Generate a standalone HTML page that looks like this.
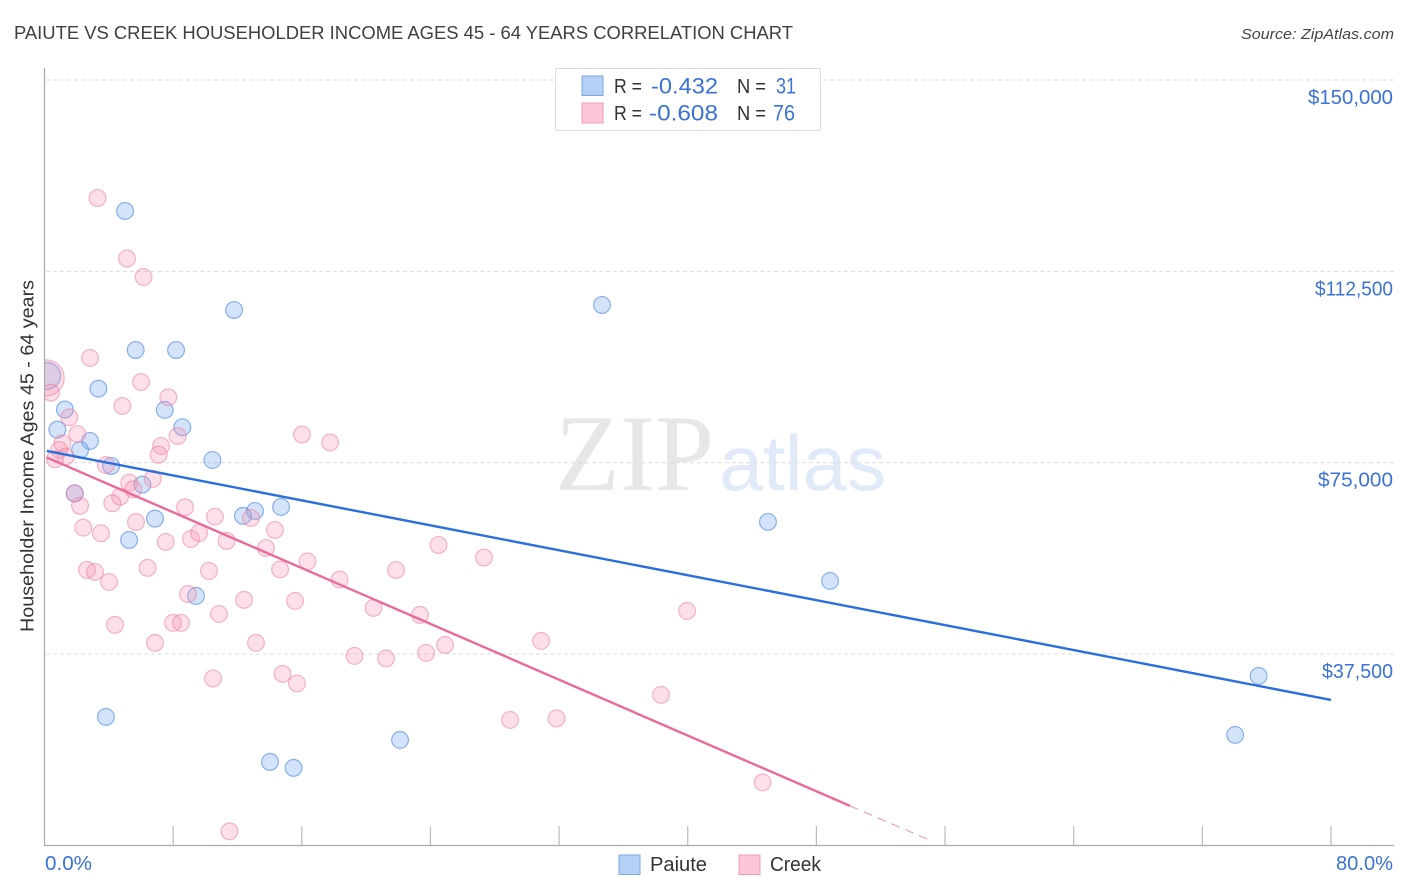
<!DOCTYPE html>
<html lang="en">
<head>
<meta charset="utf-8">
<title>Paiute vs Creek Householder Income Ages 45 - 64 Years Correlation Chart</title>
<style>
  html, body { margin: 0; padding: 0; background: #fff; width: 1406px; height: 892px; overflow: hidden; }
  svg { display: block; font-family: "Liberation Sans", sans-serif; }
</style>
</head>
<body>
<svg id="chart" xmlns="http://www.w3.org/2000/svg" width="1406" height="892" viewBox="0 0 1406 892">
  <defs>
    <clipPath id="plot-clip"><rect x="44.5" y="60" width="1350" height="786"/></clipPath>
  </defs>
  <text x="14" y="39" font-size="18.5" fill="#3f3f3f" textLength="779" lengthAdjust="spacingAndGlyphs">PAIUTE VS CREEK HOUSEHOLDER INCOME AGES 45 - 64 YEARS CORRELATION CHART</text>
  <text x="1241" y="39" font-size="15" font-style="italic" fill="#444" textLength="153" lengthAdjust="spacingAndGlyphs">Source: ZipAtlas.com</text>

  <g>
    <text x="555" y="490" font-family="'Liberation Serif', serif" font-size="109" fill="#e7e7e7" textLength="159" lengthAdjust="spacingAndGlyphs">ZIP</text>
    <text x="719" y="490" font-size="78" fill="#e0eaf8" textLength="167" lengthAdjust="spacingAndGlyphs">atlas</text>
  </g>

  <g id="grid"></g>
  <g id="points" clip-path="url(#plot-clip)"></g>
  <g id="trends"></g>
  <g id="axes"></g>

  <text transform="translate(33.5,632) rotate(-90)" font-size="18.5" fill="#333" textLength="352" lengthAdjust="spacingAndGlyphs">Householder Income Ages 45 - 64 years</text>

  <g>
    <rect x="555.5" y="68.5" width="265" height="62" fill="#fff" stroke="#dcdcdc" stroke-width="1"/>
    <rect x="582" y="76" width="21" height="19.5" fill="#b5d0f5" stroke="#7aa8e6" stroke-width="1"/>
    <text x="614" y="93" font-size="20" fill="#333" textLength="28" lengthAdjust="spacingAndGlyphs">R =</text>
    <text x="651" y="93.5" font-size="22" fill="#3a72d8" textLength="67" lengthAdjust="spacingAndGlyphs">-0.432</text>
    <text x="737" y="93" font-size="20" fill="#333" textLength="29" lengthAdjust="spacingAndGlyphs">N =</text>
    <text x="776" y="93.5" font-size="22" fill="#3a72d8" textLength="20" lengthAdjust="spacingAndGlyphs">31</text>
    <rect x="582" y="103" width="21" height="20" fill="#fcc5d8" stroke="#ef9ab8" stroke-width="1"/>
    <text x="614" y="120" font-size="20" fill="#333" textLength="28" lengthAdjust="spacingAndGlyphs">R =</text>
    <text x="649" y="120.5" font-size="22" fill="#3a72d8" textLength="69" lengthAdjust="spacingAndGlyphs">-0.608</text>
    <text x="737" y="120" font-size="20" fill="#333" textLength="29" lengthAdjust="spacingAndGlyphs">N =</text>
    <text x="773" y="120.5" font-size="22" fill="#3a72d8" textLength="22" lengthAdjust="spacingAndGlyphs">76</text>
  </g>

  <g>
    <rect x="619" y="855" width="21" height="19.5" fill="#b5d0f5" stroke="#7aa8e6" stroke-width="1"/>
    <text x="650" y="871" font-size="20" fill="#333" textLength="57" lengthAdjust="spacingAndGlyphs">Paiute</text>
    <rect x="739" y="855" width="21" height="19.5" fill="#fcc5d8" stroke="#ef9ab8" stroke-width="1"/>
    <text x="770" y="871" font-size="20" fill="#333" textLength="51" lengthAdjust="spacingAndGlyphs">Creek</text>
  </g>
</svg>
<script>
// Data: x is percent, y is householder income in dollars.
const yTickValues = [37500, 75000, 112500, 150000];
const yTickLabels = ["$37,500", "$75,000", "$112,500", "$150,000"];
const xTickValues = [8, 16, 24, 32, 40, 48, 56, 64, 72, 80];
const xEdgeValues = [0, 80];
const xEdgeLabels = ["0.0%", "80.0%"];

const paiuteX = [5.01, 11.79, 34.67, 5.67, 8.18, 3.35, 0.16, 1.27, 7.48, 0.80, 8.57, 2.83, 2.21, 10.44, 4.14, 6.08, 1.88, 6.87, 12.34, 13.09, 14.71, 5.26, 44.99, 48.85, 9.42, 75.50, 3.82, 74.04, 22.11, 14.02, 15.49];
const paiuteY = [124330, 104930, 105910, 97090, 97090, 89510, 92000, 85430, 85340, 81480, 81950, 79260, 77500, 75540, 74360, 70700, 68970, 64040, 64570, 65540, 66330, 59860, 63390, 51830, 48890, 33210, 25180, 21650, 20670, 16360, 15190];
const paiuteWeight = [1, 1, 1, 1, 1, 1, 1.6, 1, 1, 1, 1, 1, 1, 1, 1, 1, 1, 1, 1, 1, 1, 1, 1, 1, 1, 1, 1, 1, 1, 1, 1];

const creekX = [3.30, 5.13, 6.16, 2.83, 0.10, 0.40, 6.00, 7.70, 4.84, 1.54, 2.04, 8.28, 7.25, 1.11, 0.92, 1.32, 0.65, 7.10, 3.82, 6.73, 5.27, 5.52, 4.70, 4.22, 2.21, 8.74, 10.60, 5.69, 2.41, 3.51, 7.54, 9.11, 9.61, 11.33, 1.88, 2.64, 3.14, 4.01, 6.41, 10.23, 4.38, 6.87, 7.99, 8.49, 8.92, 10.85, 12.41, 13.15, 10.48, 14.80, 15.70, 15.58, 14.65, 13.77, 12.84, 14.33, 16.36, 16.01, 17.76, 18.35, 21.86, 20.46, 23.35, 19.28, 21.24, 23.73, 24.91, 24.50, 27.33, 30.88, 28.95, 31.84, 38.34, 39.96, 44.65, 11.50];
const creekY = [126880, 115020, 111400, 95530, 91610, 88730, 90820, 87820, 86120, 83910, 80630, 80240, 78280, 78810, 77500, 76190, 75680, 76580, 74560, 71820, 71090, 69800, 68350, 67050, 66530, 66270, 64430, 63390, 62270, 61180, 59470, 60060, 61230, 59670, 69010, 53980, 53590, 51630, 54380, 53790, 43210, 39680, 43600, 43600, 49280, 45360, 48110, 39680, 32720, 33610, 31740, 47910, 54080, 58290, 64170, 61820, 55650, 80530, 78970, 52120, 53980, 46540, 45170, 37130, 36640, 37720, 39290, 58880, 56430, 40070, 24590, 24890, 29490, 45950, 12340, 2740];
const creekWeight = [1, 1, 1, 1, 2.15, 1, 1, 1, 1, 1, 1, 1, 1, 1, 1, 1, 1, 1, 1, 1, 1, 1, 1, 1, 1, 1, 1, 1, 1, 1, 1, 1, 1, 1, 1, 1, 1, 1, 1, 1, 1, 1, 1, 1, 1, 1, 1, 1, 1, 1, 1, 1, 1, 1, 1, 1, 1, 1, 1, 1, 1, 1, 1, 1, 1, 1, 1, 1, 1, 1, 1, 1, 1, 1, 1, 1];

const paiuteTrendX = [0.14, 80];
const paiuteTrendY = [77300, 28510];
const creekTrendX = [0.14, 50.09];
const creekTrendY = [76030, 7740];
const creekExtensionX = [50.09, 55.01];
const creekExtensionY = [7740, 1080];

const SVGNS = "http://www.w3.org/2000/svg";
function xScale(v) { return 44.5 + v * 16.081; }
function yScale(v) { return 845.4 - v * 0.0051027; }
function make(tag, attrs, parent) {
  const el = document.createElementNS(SVGNS, tag);
  for (const k in attrs) el.setAttribute(k, attrs[k]);
  parent.appendChild(el);
  return el;
}
// The reference's label face is wider than Liberation Sans, so each printed label is fitted to its measured width.
function fitLabel(label, target) {
  if (target) {
    label.setAttribute("textLength", target);
    label.setAttribute("lengthAdjust", "spacingAndGlyphs");
  }
}
const labelFit = { "$150,000": 85, "$112,500": 78, "$75,000": 75, "$37,500": 71, "0.0%": 47, "80.0%": 57 };

const grid = document.getElementById("grid");
const axes = document.getElementById("axes");
const points = document.getElementById("points");
const trends = document.getElementById("trends");

yTickValues.forEach(function (v, i) {
  const y = yScale(v);
  const line = make("line", { x1: 46, x2: 1394, y1: y, y2: y, stroke: "#dcdcdc", "stroke-width": 1, "stroke-dasharray": "4 3" }, grid);
  
  
  const label = make("text", { x: 1393, y: y + 24, "text-anchor": "end", "font-size": 20, fill: "#3a72d8" }, axes);
  
  
  label.textContent = yTickLabels[i];
  fitLabel(label, labelFit[yTickLabels[i]]);
});

const leftAxis = make("line", { x1: 44.5, x2: 44.5, y1: 68, y2: 846, stroke: "#aaa", "stroke-width": 1.2 }, axes);


const bottomAxis = make("line", { x1: 44, x2: 1394, y1: 845.5, y2: 845.5, stroke: "#aaa", "stroke-width": 1.2 }, axes);



xTickValues.forEach(function (v) {
  const x = xScale(v);
  const tick = make("line", { x1: x, x2: x, y1: 826, y2: 845.5, stroke: "#bbb", "stroke-width": 1.2 }, axes);
  
  
});

xEdgeValues.forEach(function (v, i) {
  const label = make("text", { x: i === 0 ? xScale(v) + 0.5 : 1393, y: 870, "text-anchor": i === 0 ? "start" : "end", "font-size": 20, fill: "#3a72d8" }, axes);
  
  
  label.textContent = xEdgeLabels[i];
  fitLabel(label, labelFit[xEdgeLabels[i]]);
});

paiuteX.forEach(function (v, i) {
  const dot = make("circle", { cx: xScale(v), cy: yScale(paiuteY[i]), r: 8.4 * paiuteWeight[i], fill: "rgba(110,165,238,0.3)", stroke: "rgba(70,130,225,0.6)", "stroke-width": 1.2 }, points);
  
  
});
creekX.forEach(function (v, i) {
  const dot = make("circle", { cx: xScale(v), cy: yScale(creekY[i]), r: 8.4 * creekWeight[i], fill: "rgba(245,150,180,0.3)", stroke: "rgba(235,125,160,0.55)", "stroke-width": 1.2 }, points);
  
  
});

const paiuteLine = make("line", { x1: xScale(paiuteTrendX[0]), y1: yScale(paiuteTrendY[0]), x2: xScale(paiuteTrendX[1]), y2: yScale(paiuteTrendY[1]), stroke: "#2a6fdc", "stroke-width": 2.4 }, trends);


const creekLine = make("line", { x1: xScale(creekTrendX[0]), y1: yScale(creekTrendY[0]), x2: xScale(creekTrendX[1]), y2: yScale(creekTrendY[1]), stroke: "#e96a9b", "stroke-width": 2.4 }, trends);


const creekExtension = make("line", { x1: xScale(creekExtensionX[0]), y1: yScale(creekExtensionY[0]), x2: xScale(creekExtensionX[1]), y2: yScale(creekExtensionY[1]), stroke: "#ea8fb1", "stroke-width": 1, "stroke-dasharray": "9 6" }, trends);


</script>
</body>
</html>
